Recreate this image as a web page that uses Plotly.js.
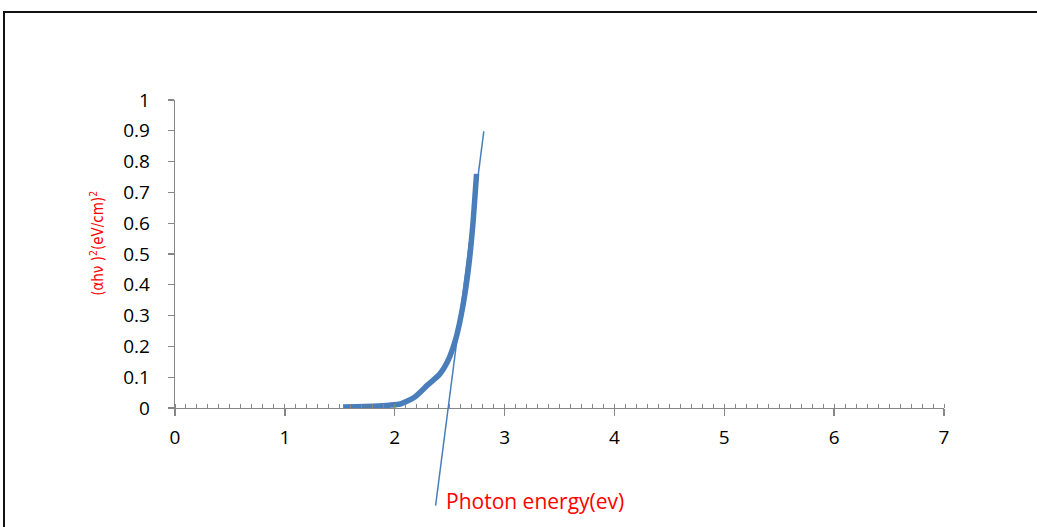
<!DOCTYPE html>
<html>
<head>
<meta charset="utf-8">
<script src="https://cdn.plot.ly/plotly-3.0.1.min.js"></script>
<style>
html,body{margin:0;padding:0;background:#fff;}
#wrap{position:relative;width:1037px;height:527px;overflow:hidden;}
#chart{width:1037px;height:527px;}
#frame{position:absolute;left:3px;top:11px;width:1100px;height:600px;border-top:2px solid #111;border-left:2px solid #111;pointer-events:none;}
</style>
</head>
<body>
<div id="wrap"><div id="chart"></div><div id="frame"></div></div>
<script>
// Measured curve (photon energy in eV vs (αhν)^2)
const energy = [1.53, 1.65, 1.80, 1.95, 2.05, 2.18, 2.30, 2.41, 2.48, 2.56, 2.62, 2.67, 2.71, 2.745];
const absorb = [0.003, 0.004, 0.006, 0.009, 0.013, 0.035, 0.075, 0.11, 0.15, 0.23, 0.33, 0.45, 0.59, 0.76];
// Linear extrapolation (Tauc) line end points
const fitX = [2.372, 2.811];
const fitY = [-0.317, 0.898];
const xTicks = [0, 1, 2, 3, 4, 5, 6, 7];
const yTicks = [0, 0.1, 0.2, 0.3, 0.4, 0.5, 0.6, 0.7, 0.8, 0.9, 1];
const yTickText = ['0', '0.1', '0.2', '0.3', '0.4', '0.5', '0.6', '0.7', '0.8', '0.9', '1'];
const xTitle = 'Photon energy(ev)';
const yTitle = '(αhν )<sup>2</sup>(eV/cm)<sup>2</sup>';

const blue = '#4a7ebb';
const axisGrey = '#868686';
const tickFont = {family: 'Open Sans, Noto Sans, sans-serif', size: 19, color: '#000'};
const d = 0.2614; // bottom of main y domain (paper fraction)

const traces = [
  {x: energy, y: absorb, type: 'scatter', mode: 'lines', xaxis: 'x', yaxis: 'y',
   line: {color: blue, width: 5.5, shape: 'spline', smoothing: 0.6}, hoverinfo: 'skip'},
  {x: fitX, y: fitY, type: 'scatter', mode: 'lines', xaxis: 'x2', yaxis: 'y2',
   line: {color: blue, width: 1.5}, hoverinfo: 'skip'}
];

const layout = {
  width: 1037, height: 527,
  margin: {l: 175, r: 93, t: 100, b: 10},
  paper_bgcolor: '#fff', plot_bgcolor: 'rgba(0,0,0,0)',
  showlegend: false,
  xaxis: {
    domain: [0, 1], range: [0, 7], anchor: 'y',
    tickvals: xTicks, ticktext: xTicks.map(String),
    showline: true, linecolor: axisGrey, linewidth: 1.3,
    ticks: 'outside', ticklen: 7, tickcolor: axisGrey, tickwidth: 1.3,
    minor: {dtick: 0.1, ticks: 'inside', ticklen: 4, tickcolor: axisGrey, tickwidth: 1, showgrid: false},
    showgrid: false, zeroline: false, tickfont: tickFont, ticklabelstandoff: 5
  },
  yaxis: {
    domain: [d, 1], range: [0, 1], anchor: 'x',
    tickvals: yTicks, ticktext: yTickText,
    showline: true, linecolor: axisGrey, linewidth: 1.3,
    ticks: 'outside', ticklen: 6, tickcolor: axisGrey, tickwidth: 1.3,
    showgrid: false, zeroline: false, tickfont: tickFont, ticklabelstandoff: 14
  },
  xaxis2: {domain: [0, 1], range: [0, 7], anchor: 'y2', visible: false, showgrid: false, zeroline: false},
  yaxis2: {domain: [0, 1], range: [1 - 1 / (1 - d), 1], anchor: 'x2', visible: false, showgrid: false, zeroline: false},
  annotations: [
    {text: xTitle, xref: 'paper', yref: 'paper', x: 0.468, y: 0.038, showarrow: false,
     xanchor: 'center', yanchor: 'middle',
     font: {family: 'Open Sans, Noto Sans, sans-serif', size: 21, color: '#ff0000'}},
    {text: yTitle, xref: 'paper', yref: 'y', x: -0.1014, y: 0.533, showarrow: false, textangle: -90,
     xanchor: 'center', yanchor: 'middle',
     font: {family: 'DejaVu Sans Condensed, Liberation Sans Narrow, sans-serif', size: 15, color: '#ff0000'}}
  ]
};

Plotly.newPlot('chart', traces, layout, {displayModeBar: false, staticPlot: true});
</script>
</body>
</html>
